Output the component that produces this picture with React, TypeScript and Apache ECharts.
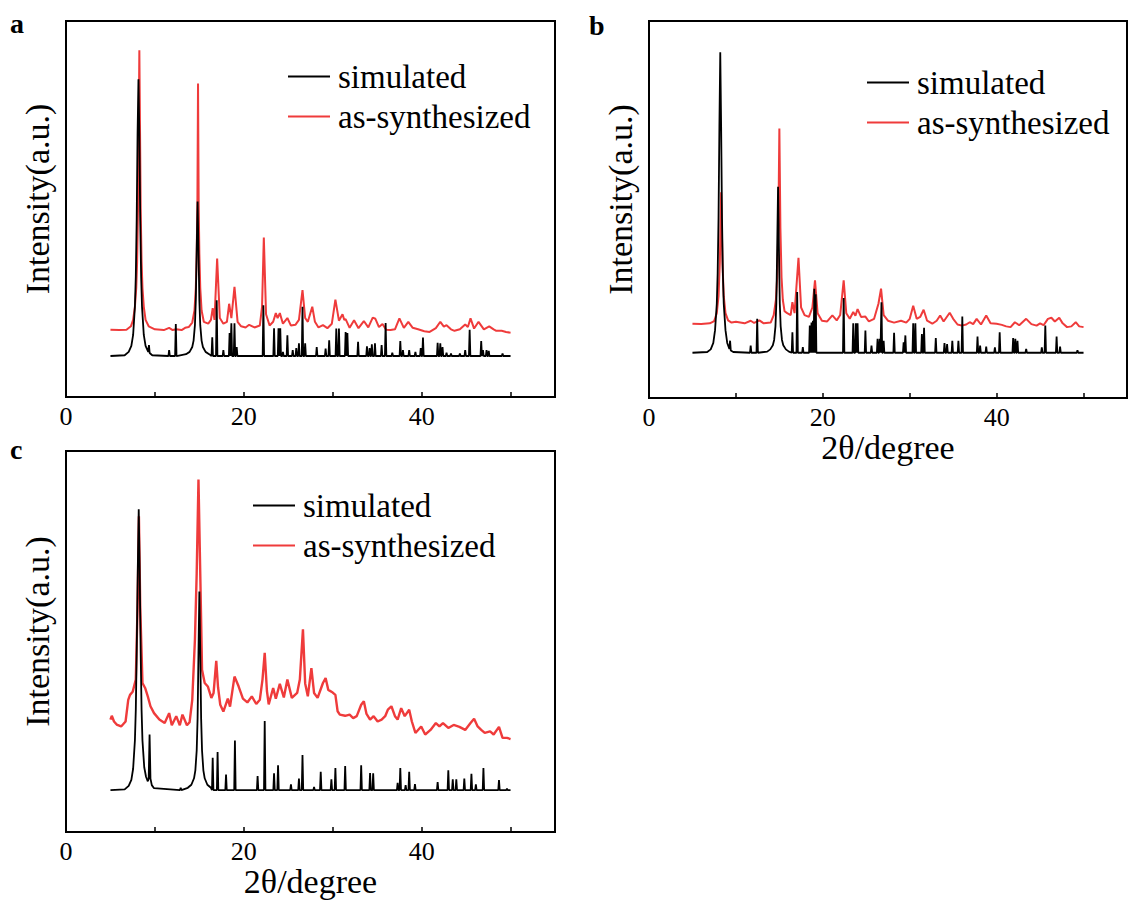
import React, { useEffect, useRef } from "react";
import * as echarts from "echarts";

// ---------- axis / tick settings ----------
const X_MIN = 0;
const X_MAX = 55;
const X_STEP = 10;
const X_LABEL_STEP = 20;
const Y_MIN = 0;
const Y_MAX = 100;
const SCAN_START = 5;
const SCAN_END = 50;
const STICK_HALF = 0.08;

const NAME_SIM = "simulated";
const NAME_EXP = "as-synthesized";
const X_NAME = "2θ/degree";
const Y_NAME = "Intensity(a.u.)";
const PANEL_LETTERS = ["a", "b", "c"];

// ---------- panel a ----------
const simBaseA = 10.9;
const simMainA: number[][] = [
  [6.6, 11.1], [7.05, 12.0], [7.35, 13.6], [7.55, 16.5], [7.75, 24], [7.85, 32], [7.95, 47], [8.05, 70],
  [8.15, 84.5], [8.25, 70], [8.35, 47], [8.45, 32], [8.55, 24], [8.75, 16.5], [8.95, 13.6], [9.25, 12],
  [9.33, 13.8], [9.41, 11.7], [9.7, 11.1],
  [13.5, 11.4], [13.9, 12], [14.2, 13.3], [14.35, 15], [14.5, 19.1], [14.6, 25.7], [14.7, 39.3], [14.8, 52],
  [14.9, 39.3], [15.0, 25.7], [15.1, 19.1], [15.25, 15], [15.4, 13.3], [15.7, 12], [16.1, 11.4],
];
const simSticksA: number[][] = [
  [11.6, 12.5], [12.35, 19.4], [16.45, 15.9], [16.95, 25.7], [17.7, 12.5],
  [18.4, 17], [18.6, 19.6], [18.95, 19.6], [19.2, 13.3], [22.2, 24.4], [23.4, 18.3],
  [23.9, 18.3], [24.1, 18.3], [24.4, 12], [24.9, 16.4], [25.5, 12.5], [25.9, 13],
  [26.2, 14.3], [26.6, 24], [26.9, 14.3], [28.2, 13.3], [29.2, 12.9], [29.6, 15.1],
  [30.4, 18.2], [30.7, 18.2], [31.45, 17.3], [31.65, 17], [32.85, 14.7], [33.85, 13.5],
  [34.15, 13], [34.4, 14], [34.75, 14.3], [35.5, 13.8], [35.95, 19.7], [36.7, 11.8],
  [37.6, 14.9], [37.9, 12.5], [38.6, 12.5], [39.3, 12], [39.9, 13], [40.15, 15.8],
  [41.8, 14.4], [42.1, 14.3], [42.35, 13.3], [42.8, 11.8], [43.3, 11.6], [44.3, 11.6],
  [44.9, 12.5], [45.4, 17.9], [46.7, 14.9], [46.9, 12.5], [47.3, 12.5], [47.55, 12.3], [49.1, 11.6],
];
const expA: number[][] = [
  [5, 17.9], [6, 17.8], [6.8, 17.9], [7.3, 18.8], [7.55, 20.5], [7.75, 24], [7.9, 29], [8.0, 36], [8.1, 50],
  [8.25, 92.2], [8.4, 50], [8.5, 36], [8.6, 29], [8.75, 24], [8.95, 20.5], [9.3, 18.8], [10, 18], [11, 17.8],
  [11.6, 18.4], [12, 17.8], [12.4, 18], [13, 17.8], [13.4, 18.4], [13.8, 18.6], [14.2, 19.8], [14.45, 23],
  [14.6, 29], [14.7, 38], [14.78, 52], [14.85, 83.4], [14.92, 52], [15.0, 38], [15.1, 29], [15.25, 23],
  [15.5, 20], [16.0, 19.5], [16.3, 20.5], [16.5, 23.6], [16.7, 20.5], [17.0, 36.8],
  [17.3, 21], [17.7, 19.5], [18.1, 20], [18.35, 24.8], [18.6, 21], [18.95, 29.3], [19.3, 20], [19.7, 18.8],
  [20.2, 18.5], [20.6, 19.2], [21.2, 18.5], [21.8, 19], [22.05, 24], [22.25, 42.4], [22.5, 22], [22.9, 19],
  [23.3, 20], [23.6, 22.3], [23.8, 21], [24.05, 22.3], [24.4, 19.5], [24.9, 21], [25.3, 19], [25.8, 19.2],
  [26.2, 20.5], [26.6, 28.4], [26.9, 21], [27.2, 20], [27.7, 24], [28.0, 20], [28.4, 18.5], [28.9, 19.1],
  [29.4, 18.3], [29.9, 19.5], [30.3, 25.9], [30.7, 20.3], [31.1, 22], [31.3, 20.5], [31.45, 20.7], [31.9, 18.4],
  [32.4, 20.4], [32.9, 18.3], [33.5, 20.2], [34.0, 18.5], [34.5, 21.1], [34.8, 20.8], [35.2, 18.6], [35.6, 19.4],
  [36.0, 17.9], [36.5, 17.8], [37.0, 18], [37.5, 20.9], [38.0, 18.4], [38.5, 20], [39.0, 18.4], [39.6, 18],
  [40.3, 17.5], [40.9, 17.3], [41.6, 18.3], [42.1, 20], [42.5, 18.7], [42.8, 19.1], [43.3, 18], [43.7, 17.6],
  [44.3, 18], [44.9, 19.3], [45.2, 18.6], [45.5, 20.9], [45.9, 18.2], [46.4, 20], [47.0, 18], [47.6, 18.8],
  [48.1, 18], [48.4, 17.6], [49, 17.6], [49.5, 17.3], [50, 17.1],
];

// ---------- panel b ----------
const simBaseB = 12.0;
const simMainB: number[][] = [
  [6.7, 12.2], [7.1, 12.9], [7.4, 14.6], [7.6, 18], [7.8, 25], [7.9, 33], [8.0, 47.7], [8.1, 72],
  [8.2, 91.7], [8.3, 72], [8.4, 47.7], [8.5, 33], [8.6, 25], [8.8, 18], [9.0, 14.6], [9.25, 13],
  [9.33, 15.2], [9.41, 12.6], [9.7, 12.2],
  [13.6, 12.3], [13.95, 12.9], [14.25, 14], [14.4, 15.4], [14.55, 19], [14.65, 25], [14.75, 39.7], [14.85, 56],
  [14.95, 39.7], [15.05, 25], [15.15, 19], [15.3, 15.4], [15.45, 14], [15.75, 12.9], [16.1, 12.3],
];
const simSticksB: number[][] = [
  [11.7, 13.9], [12.45, 21], [16.5, 17.4], [17.05, 28.1], [17.7, 13.5],
  [18.5, 19.2], [18.7, 20], [18.86, 20.5], [19.02, 29], [19.18, 27.5], [22.4, 26.5],
  [23.5, 19.8], [23.8, 19.8], [24.0, 19.8], [24.9, 17.9], [25.6, 13.9], [26.3, 15.7],
  [26.55, 15.7], [26.75, 25.4], [27.0, 15.2], [28.2, 17.3], [29.3, 14.8], [29.5, 16.6],
  [30.4, 19.8], [30.65, 19.8], [31.4, 17], [31.65, 18.6], [33.0, 15.9], [34.0, 14.6],
  [34.3, 14.3], [34.9, 15.2], [35.6, 15.2], [36.05, 21.6], [37.8, 16.3], [38.1, 13.9],
  [38.8, 13.6], [39.8, 13.4], [40.35, 17.4], [41.9, 15.9], [42.15, 15.7], [42.4, 15.2],
  [43.4, 13], [45.2, 13.4], [45.6, 19.2], [46.9, 16.3], [47.3, 13.6], [49.3, 12.7],
];
const expB: number[][] = [
  [5, 19.7], [6, 19.6], [7, 19.8], [7.5, 20.4], [7.8, 22.5], [8.0, 27], [8.15, 36], [8.3, 54.6], [8.45, 36],
  [8.6, 27], [8.8, 22.5], [9.1, 20.6], [9.5, 20], [10, 20.2], [11, 19.8], [11.7, 20.5], [12.1, 19.9],
  [12.7, 20.6], [13.2, 19.8], [14.0, 20], [14.35, 22], [14.6, 26], [14.75, 32], [14.88, 45], [15.0, 71.5],
  [15.12, 45], [15.25, 32], [15.4, 26], [15.6, 23], [15.9, 22.5], [16.3, 22],
  [16.5, 25.4], [16.75, 22.5], [17.2, 37.2], [17.5, 24], [17.9, 22], [18.4, 21.5], [18.8, 24], [19.1, 31.2],
  [19.4, 22.5], [19.9, 20.5], [20.5, 20.3], [21.1, 21.9], [21.6, 20.6], [22.0, 22], [22.4, 31.2], [22.7, 22.5],
  [23.1, 21], [23.5, 22.8], [23.75, 21.8], [24.0, 23.6], [24.4, 21.5], [24.9, 21.6], [25.3, 20.3], [25.9, 21],
  [26.4, 25], [26.7, 29], [27.0, 22], [27.5, 20.5], [28.2, 20], [29.0, 20.5], [29.6, 20], [30.0, 21],
  [30.4, 24.5], [30.8, 21], [31.2, 21.5], [31.6, 23.4], [32.0, 20.5], [32.6, 19.7], [33.1, 20.5], [33.5, 21.9],
  [33.9, 20.3], [34.6, 22.6], [35.0, 21], [35.5, 19.5], [36.0, 19.2], [36.5, 19.5], [36.9, 20.1], [37.3, 19.6],
  [37.7, 21], [38.2, 19.5], [38.8, 21.9], [39.3, 19.8], [40.0, 19.7], [40.6, 19.4], [41.1, 19], [41.6, 18.8],
  [42.1, 20.1], [42.6, 19.3], [43.4, 21], [44.0, 19.6], [44.6, 19.2], [45.0, 19.8], [45.4, 19.3], [45.9, 21],
  [46.3, 21.3], [46.7, 20.3], [47.2, 21.3], [47.6, 19.8], [48.1, 18.8], [48.6, 19], [49.1, 20.1], [49.5, 19],
  [50, 18.8],
];

// ---------- panel c ----------
const simBaseC = 11.0;
const simMainC: number[][] = [
  [6.6, 11.2], [7.05, 12.1], [7.35, 13.7], [7.55, 16.6], [7.75, 24], [7.85, 32], [7.95, 47], [8.08, 70],
  [8.18, 84.7], [8.28, 70], [8.4, 47], [8.5, 32], [8.6, 24], [8.8, 17], [9.0, 14.5], [9.2, 13.3],
  [9.3, 14], [9.4, 25.6], [9.5, 14], [9.65, 12.3], [9.9, 11.5],
  [13.7, 11.6], [14.1, 12.4], [14.4, 14.1], [14.55, 16.2], [14.7, 21.4], [14.8, 29.7], [14.9, 47], [15.0, 63.1],
  [15.1, 47], [15.2, 29.7], [15.3, 21.4], [15.45, 16.2], [15.6, 14.1], [15.9, 12.4], [16.3, 11.6],
];
const simSticksC: number[][] = [
  [12.9, 11.6], [16.5, 19.5], [17.05, 21], [18.0, 15.1], [19.0, 24], [21.55, 14.7],
  [22.35, 29.1], [23.4, 15.4], [23.85, 17.5], [25.3, 12.5], [26.2, 14], [26.6, 20.2],
  [27.9, 11.8], [28.65, 15.8], [29.85, 13.8], [30.3, 16.8], [31.4, 17.3], [33.2, 17.5],
  [34.2, 15.5], [34.55, 15.4], [37.3, 12.9], [37.6, 16.8], [38.2, 12.3], [38.6, 15.8],
  [39.25, 12.6], [41.8, 13.1], [43.0, 16.2], [43.5, 13.8], [43.9, 13.8], [44.8, 14],
  [45.6, 15.3], [46.1, 12.5], [46.95, 16.8], [48.7, 13.6], [49.6, 11.4],
];
const expC: number[][] = [
  [5, 29.5], [5.15, 30.5], [5.4, 29], [5.7, 28.2], [6.2, 27.7], [6.7, 29], [7.0, 34.7], [7.2, 36],
  [7.5, 36.8], [7.85, 40], [8.05, 59], [8.2, 82.9], [8.35, 59], [8.6, 39.1], [8.9, 37.8], [9.2, 35.6],
  [9.5, 33], [9.9, 31.2], [10.5, 29.5], [11.1, 28.6], [11.6, 31.2], [11.9, 28], [12.4, 30.4], [12.8, 28],
  [13.1, 30.8], [13.6, 28], [13.9, 28.8], [14.2, 34.7], [14.5, 50.4], [14.7, 67.9], [14.9, 92.5], [15.1, 67.9],
  [15.3, 42.6], [15.6, 39.1], [15.95, 38.2], [16.35, 35.2], [16.6, 36.5], [16.9, 44.9], [17.1, 38], [17.35, 33.4],
  [17.7, 31.6], [18.2, 35], [18.45, 32.9], [18.95, 40.8], [19.4, 38.3], [19.9, 35], [20.4, 34], [20.9, 35.6],
  [21.4, 33.6], [21.8, 34.7], [22.1, 40], [22.35, 47], [22.6, 37], [22.8, 33.5], [23.3, 37.8], [23.6, 35],
  [24.05, 38.9], [24.5, 35.3], [24.9, 40], [25.4, 35.2], [26.0, 36.5], [26.3, 40], [26.65, 53.2], [26.9, 39],
  [27.2, 35.6], [27.6, 43], [27.9, 36.5], [28.3, 35.2], [28.9, 39.1], [29.2, 40.4], [29.5, 37.3], [30.0, 36.6],
  [30.3, 36], [30.55, 31.7], [30.8, 30.8], [31.4, 30.5], [31.9, 30.8], [32.3, 29.9], [32.7, 30.4], [33.2, 33.4],
  [33.5, 34.3], [33.8, 31], [34.2, 29.5], [34.6, 30.4], [35.05, 29], [35.5, 29.5], [35.9, 30.4], [36.2, 32.1],
  [36.6, 33], [37.0, 30.4], [37.3, 29.5], [37.7, 32.5], [38.1, 30.4], [38.6, 32.1], [38.9, 29], [39.3, 26],
  [39.95, 27.7], [40.4, 25.6], [41.0, 26.8], [41.6, 28.6], [42.0, 27.7], [42.4, 28.6], [43.0, 27.3], [43.6, 28.1],
  [44.25, 27.6], [44.9, 26.8], [45.5, 28.6], [45.9, 29.7], [46.3, 27.7], [46.7, 26.8], [47.1, 26], [47.7, 26.4],
  [48.1, 25.6], [48.7, 27.6], [49.1, 24.7], [49.6, 24.7], [50, 24.4],
];

// ---------- build the simulated stick pattern ----------
function buildSim(main: number[][], sticks: number[][], base: number): number[][] {
  const pts: number[][] = [];
  main.forEach((p) => pts.push([p[0], p[1]]));
  sticks.forEach(([x, h]) => {
    pts.push([x - STICK_HALF, base]);
    pts.push([x, h]);
    pts.push([x + STICK_HALF, base]);
  });
  pts.sort((a, b) => a[0] - b[0]);
  return [[SCAN_START, base], ...pts, [SCAN_END, base]];
}

const FONT = "'Liberation Serif', 'Times New Roman', serif";
const RED = "#ef3b3b";

export default function App() {
  const ref = useRef<HTMLDivElement>(null);

  useEffect(() => {
    if (!ref.current) return;
    const chart = echarts.init(ref.current, undefined, { renderer: "svg" });

    const grids = [
      { left: 66, top: 21, width: 489, height: 376 },
      { left: 649, top: 21, width: 489, height: 377 },
      { left: 66, top: 451, width: 489, height: 381 },
    ];
    const sims = [
      buildSim(simMainA, simSticksA, simBaseA),
      buildSim(simMainB, simSticksB, simBaseB),
      buildSim(simMainC, simSticksC, simBaseC),
    ];
    const exps = [expA, expB, expC];
    const legendPos = [
      { left: 288, top: 60 },
      { left: 867, top: 66 },
      { left: 253, top: 489 },
    ];
    const letterPos = [
      { x: 10, y: 23 },
      { x: 589, y: 25 },
      { x: 10, y: 449 },
    ];
    const xNameGap = [30, 26, 32];

    const series: any[] = [];
    [0, 1, 2].forEach((i) => {
      series.push({
        type: "line",
        name: NAME_EXP,
        xAxisIndex: i,
        yAxisIndex: i,
        data: exps[i],
        symbol: "none",
        lineStyle: { color: RED, width: i === 2 ? 2.4 : 2 },
        itemStyle: { color: RED },
      });
    });
    [0, 1, 2].forEach((i) => {
      series.push({
        type: "line",
        name: NAME_SIM,
        xAxisIndex: i,
        yAxisIndex: i,
        data: sims[i],
        symbol: "none",
        lineStyle: { color: "#000", width: 1.8 },
        itemStyle: { color: "#000" },
      });
    });

    const option: any = {
      animation: false,
      backgroundColor: "#fff",
      grid: grids.map((g) => ({
        ...g,
        show: true,
        borderColor: "#000",
        borderWidth: 2,
        backgroundColor: "transparent",
        containLabel: false,
      })),
      xAxis: [0, 1, 2].map((i) => ({
        type: "value",
        gridIndex: i,
        min: X_MIN,
        max: X_MAX,
        interval: X_STEP,
        name: i === 0 ? "" : X_NAME,
        nameLocation: "middle",
        nameGap: xNameGap[i],
        nameTextStyle: { fontFamily: FONT, fontSize: 34, color: "#000" },
        axisLine: { show: true, onZero: false, lineStyle: { color: "#000", width: 2 } },
        axisTick: { show: true, inside: true, length: 5, lineStyle: { color: "#000", width: 1.5 } },
        axisLabel: {
          margin: 6,
          color: "#000",
          fontFamily: FONT,
          fontSize: 26,
          formatter: (v: number) => (v % X_LABEL_STEP === 0 && v < X_MAX ? String(v) : ""),
        },
        splitLine: { show: false },
      })),
      yAxis: [0, 1, 2].map((i) => ({
        type: "value",
        gridIndex: i,
        min: Y_MIN,
        max: Y_MAX,
        name: Y_NAME,
        nameLocation: "middle",
        nameGap: 12,
        nameTextStyle: { fontFamily: FONT, fontSize: 34, color: "#000", padding: [0, 0, 0, 20] },
        axisLine: { show: true, lineStyle: { color: "#000", width: 2 } },
        axisTick: { show: false },
        axisLabel: { show: false },
        splitLine: { show: false },
      })),
      legend: legendPos.map((p) => ({
        ...p,
        orient: "vertical",
        padding: 0,
        data: [NAME_SIM, NAME_EXP],
        icon: "rect",
        itemWidth: 42,
        itemHeight: 2,
        itemGap: 7,
        selectedMode: false,
        textStyle: {
          fontFamily: FONT,
          fontSize: 33,
          color: "#000",
          lineHeight: 33,
          padding: [0, 0, 0, 3],
        },
      })),
      graphic: PANEL_LETTERS.map((t, i) => ({
        type: "text",
        x: letterPos[i].x,
        y: letterPos[i].y,
        style: {
          text: t,
          font: `bold 28px ${FONT}`,
          fill: "#000",
          verticalAlign: "middle",
        },
      })),
      series,
    };

    chart.setOption(option);
    return () => chart.dispose();
  }, []);

  return (
    <div
      ref={ref}
      style={{ position: "absolute", left: 0, top: 0, width: 1130, height: 902, background: "#fff" }}
    />
  );
}
